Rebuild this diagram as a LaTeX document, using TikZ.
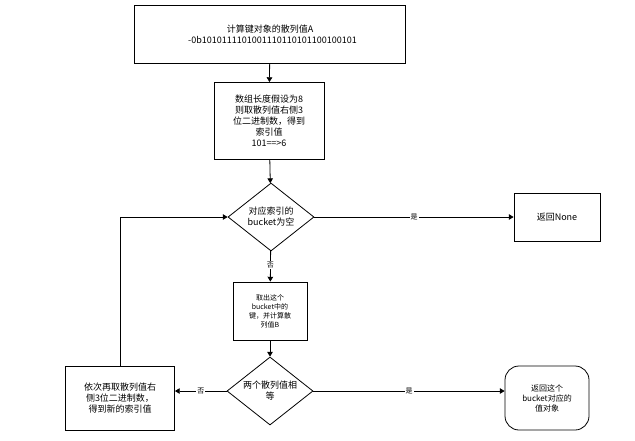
\documentclass[tikz,border=0pt]{standalone}
\usepackage{fontspec}
\setmainfont{Noto Sans CJK SC}
\usetikzlibrary{shapes.geometric,arrows.meta}
\begin{document}
\begin{tikzpicture}[x=1pt,y=-1pt,>=Triangle,thick,
    box/.style={draw,align=center,inner sep=1pt,font=\fontsize{9}{11}\selectfont},
    choice/.style={draw,diamond,aspect=1.3,align=center,inner sep=0pt,minimum width=86pt,minimum height=68pt,font=\fontsize{9}{11}\selectfont},
    lbl/.style={font=\fontsize{7}{8}\selectfont,fill=white,inner sep=1pt}]
\useasboundingbox (0,0) rectangle (635,440);

\node[box,minimum width=271pt,minimum height=58pt] (hash) at (270,34) {计算键对象的散列值A\\-0b101011110100111011010110010010\rlap{1}};
\node[box,minimum width=110pt,minimum height=77pt] (index) at (269,121) {数组长度假设为8\\则取散列值右侧3\\位二进制数，得到\\索引值\\101==>6};
\node[choice] (empty) at (271,217) {对应索引的\\bucket为空};
\node[box,minimum width=86pt,minimum height=48pt] (none) at (557,217) {返回None};
\node[box,minimum width=74pt,minimum height=58pt,font=\fontsize{7}{9}\selectfont] (key) at (270,311) {取出这个\\bucket中的\\键，并计算散\\列值B};
\node[choice] (equal) at (270,391) {两个散列值相\\等};
\node[box,minimum width=109pt,minimum height=64pt] (next) at (120,398) {依次再取散列值右\\侧3位二进制数，\\得到新的索引值};
\node[box,rounded corners=14pt,minimum width=84pt,minimum height=64pt,font=\fontsize{8}{10}\selectfont] (found) at (547,398) {返回这个\\bucket对应的\\值对象};

\draw[->] (hash) -- (index);
\draw[->] (index) -- (empty);
\draw[->] (empty) -- node[lbl]{是} (none);
\draw[->] (empty) -- node[lbl,pos=0.45]{否} (key);
\draw[->] (key) -- (equal);
\draw[->] (equal.east) -- node[lbl]{是} (found.west |- equal.east);
\draw[->] (equal.west) -- node[lbl]{否} (next.east |- equal.west);
\draw[->] (next.north) |- (empty.west);
\end{tikzpicture}
\end{document}
